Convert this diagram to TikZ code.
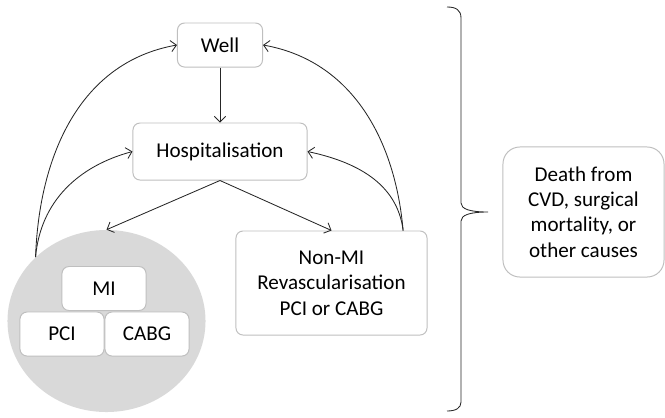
\documentclass[tikz,border=0pt]{standalone}
\usepackage{fontspec}
\setmainfont{Carlito}
\usetikzlibrary{arrows.meta,shapes.geometric}
\begin{document}
\begin{tikzpicture}[x=0.025cm,y=-0.025cm,
  statebox/.style={draw=black!25,line width=0.7pt,fill=white,rounded corners=5pt,align=center,inner sep=0pt,font=\fontsize{15}{18}\selectfont},
  smallbox/.style={statebox,minimum width=2.1cm,minimum height=1.1cm},
  link/.style={draw=black!85,line width=0.6pt,-{Straight Barb[length=4pt,width=8pt]}}]
\useasboundingbox (0,0) rectangle (665,417);
\node[ellipse,fill=black!15,inner sep=0pt,minimum width=4.95cm,minimum height=4.55cm] (group) at (106.5,321) {};
\node[smallbox,minimum width=2.125cm] (well) at (220,45) {Well};
\node[statebox,minimum width=4.35cm,minimum height=1.425cm] (hosp) at (220,151.5) {Hospitalisation};
\node[smallbox] (mi) at (104,288.5) {MI};
\node[smallbox] (pci) at (62,334) {PCI};
\node[smallbox] (cabg) at (147,334) {CABG};
\node[statebox,minimum width=4.775cm,minimum height=2.6cm] (nonmi) at (331.5,283) {Non-MI\\Revascularisation\\PCI or CABG};
\node[statebox,rounded corners=12pt,minimum width=4.025cm,minimum height=3.25cm] (death) at (583.5,212) {Death from\\CVD, surgical\\mortality, or\\other causes};
\coordinate (gexit) at (group.138);
\coordinate (nexit) at ([xshift=1.79cm]nonmi.north);
% transitions
\draw[link] (well) -- (hosp);
\draw[link] (hosp.south) -- (group.north);
\draw[link] (hosp.south) -- (nonmi.north);
\draw[link] (gexit) to[out=88,in=190] (well.west);
\draw[link] (gexit) to[out=85,in=195] (hosp.west);
\draw[link] (nexit) to[out=95,in=-10] (well.east);
\draw[link] (nexit) to[out=97,in=-12] (hosp.east);
% brace
\draw[line width=0.6pt,black!85] (447,7) .. controls (456,7) and (461,10) .. (461,18) -- (461,203)
  .. controls (461,209) and (470,212) .. (488,212)
  .. controls (470,212) and (461,215) .. (461,221) -- (461,402)
  .. controls (461,408) and (456,411) .. (447,411);
\end{tikzpicture}
\end{document}
